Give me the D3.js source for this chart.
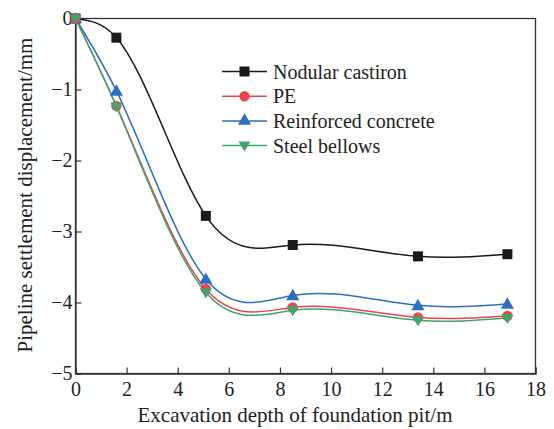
<!DOCTYPE html>
<html><head><meta charset="utf-8">
<script src="https://cdn.jsdelivr.net/npm/d3@7"></script>
<style>body{margin:0;background:#fff}</style>
</head><body><svg id="c" width="554" height="429"></svg>
<script>
const depths = [0, 1.6, 5.1, 8.5, 13.4, 16.9];
const seriesNames = ["Nodular castiron", "PE", "Reinforced concrete", "Steel bellows"];
const nodular = [0, -0.27, -2.78, -3.19, -3.35, -3.32];
const pe = [0, -1.23, -3.81, -4.07, -4.21, -4.19];
const reinforced = [0, -1.02, -3.67, -3.90, -4.04, -4.02];
const steel = [0, -1.24, -3.86, -4.11, -4.25, -4.22];
const xTicks = [0, 2, 4, 6, 8, 10, 12, 14, 16, 18];
const yTicks = [0, -1, -2, -3, -4, -5];

const colors = ["#1a1a1a", "#e8464e", "#2c6fc2", "#3ea66b"];
const symbols = ["square", "circle", "triangle", "triangleDown"];
const data = [nodular, pe, reinforced, steel];
const FONT = "'Liberation Serif', 'Times New Roman', Times, serif";

function NaturalX(context) { this._context = context; }
NaturalX.prototype = {
  areaStart() { this._line = 0; }, areaEnd() { this._line = NaN; },
  lineStart() { this._xs = []; this._ys = []; },
  point(x, y) { this._xs.push(+x); this._ys.push(+y); },
  lineEnd() {
    const X = this._xs, Y = this._ys, n = X.length, c = this._context;
    if (!n) return;
    c.moveTo(X[0], Y[0]);
    if (n < 3) { if (n === 2) c.lineTo(X[1], Y[1]); return; }
    const h = [], d = [];
    for (let i = 0; i < n - 1; i++) { h.push(X[i + 1] - X[i]); d.push((Y[i + 1] - Y[i]) / h[i]); }
    const M = new Array(n).fill(0);
    const m = n - 2, a = [], b = [], cc = [], r = [];
    for (let k = 0; k < m; k++) {
      const i = k + 1;
      a.push(h[i - 1]); b.push(2 * (h[i - 1] + h[i])); cc.push(h[i]); r.push(6 * (d[i] - d[i - 1]));
    }
    for (let k = 1; k < m; k++) { const w = a[k] / b[k - 1]; b[k] -= w * cc[k - 1]; r[k] -= w * r[k - 1]; }
    const sol = new Array(m);
    sol[m - 1] = r[m - 1] / b[m - 1];
    for (let k = m - 2; k >= 0; k--) sol[k] = (r[k] - cc[k] * sol[k + 1]) / b[k];
    for (let k = 0; k < m; k++) M[k + 1] = sol[k];
    for (let i = 0; i < n - 1; i++) {
      const s0 = d[i] - h[i] * (2 * M[i] + M[i + 1]) / 6;
      const s1 = d[i] + h[i] * (M[i] + 2 * M[i + 1]) / 6;
      const t = h[i] / 3;
      c.bezierCurveTo(X[i] + t, Y[i] + t * s0, X[i + 1] - t, Y[i + 1] - t * s1, X[i + 1], Y[i + 1]);
    }
  }
};
const curveNaturalX = ctx => new NaturalX(ctx);

const svg = d3.select("#c");
const L = 75.5, R = 535.5, T = 18.5, B = 373.5;
const x = d3.scaleLinear().domain([0, 18]).range([L, R]);
const y = d3.scaleLinear().domain([-5, 0]).range([B, T]);

svg.append("rect").attr("x", L).attr("y", T).attr("width", R - L).attr("height", B - T)
  .attr("fill", "none").attr("stroke", "#333").attr("stroke-width", 1.3);

const xAxis = svg.append("g").attr("transform", `translate(0,${B})`)
  .call(d3.axisBottom(x).tickValues(xTicks).tickSize(-6).tickPadding(8).tickFormat(d3.format("d")));
const yAxis = svg.append("g").attr("transform", `translate(${L},0)`)
  .call(d3.axisLeft(y).tickValues(yTicks).tickSize(-6).tickPadding(3).tickFormat(d => d < 0 ? "\u2212" + Math.abs(d) : d));
[xAxis, yAxis].forEach(a => {
  a.attr("font-family", FONT).attr("font-size", 20);
  a.select(".domain").attr("stroke", "#333").attr("stroke-width", 1.3);
  a.selectAll(".tick line").attr("stroke", "#333").attr("stroke-width", 1.2);
  a.selectAll(".tick text").attr("fill", "#222");
});

svg.append("text").attr("x", 295).attr("y", 422).attr("text-anchor", "middle")
  .attr("font-family", FONT).attr("font-size", 21).attr("fill", "#222").text("Excavation depth of foundation pit/m");
svg.append("text").attr("transform", `translate(32,195) rotate(-90)`).attr("text-anchor", "middle")
  .attr("font-family", FONT).attr("font-size", 21).attr("fill", "#222").text("Pipeline settlement displacement/mm");

const line = d3.line().x((d, i) => x(depths[i])).y(d => y(d)).curve(curveNaturalX);

function sym(i) {
  const s = symbols[i];
  if (s === "square") return d3.symbol().type(d3.symbolSquare).size(100)();
  if (s === "circle") return d3.symbol().type(d3.symbolCircle).size(85)();
  if (s === "triangle") return d3.symbol().type(d3.symbolTriangle).size(75)();
  return "M-6,-4L6,-4L0,6Z";
}

const order = [0, 2, 1, 3];
order.forEach(i => {
  svg.append("path").datum(data[i]).attr("d", line).attr("fill", "none")
    .attr("stroke", colors[i]).attr("stroke-width", 1.5);
});
order.forEach(i => {
  svg.selectAll(null).data(data[i]).enter().append("path")
    .attr("d", sym(i)).attr("fill", colors[i])
    .attr("transform", (d, k) => `translate(${x(depths[k])},${y(d) + (symbols[i] === "triangle" ? 1 : 0)})`);
});

const lg = svg.append("g");
seriesNames.forEach((n, i) => {
  const yy = 71.5 + i * 24.7;
  lg.append("line").attr("x1", 222).attr("x2", 267).attr("y1", yy).attr("y2", yy)
    .attr("stroke", colors[i]).attr("stroke-width", 1.5);
  lg.append("path").attr("d", sym(i)).attr("fill", colors[i]).attr("transform", `translate(244.5,${yy})`);
  lg.append("text").attr("x", 273).attr("y", yy + 7).attr("font-family", FONT).attr("font-size", 20)
    .attr("fill", "#222").text(n);
});
</script></body></html>
